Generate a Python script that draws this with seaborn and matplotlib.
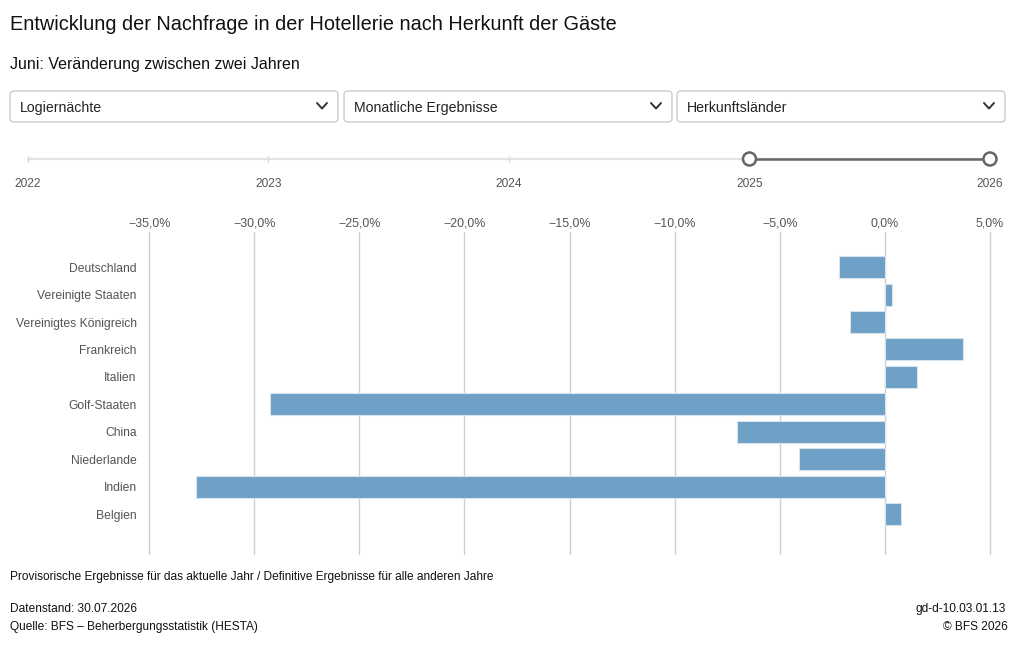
import pandas as pd
import matplotlib.pyplot as plt
import seaborn as sns
from matplotlib.patches import FancyBboxPatch, Circle
from matplotlib.ticker import FuncFormatter

# Daten: Juni, Veränderung der Logiernächte zwischen 2025 und 2026 (in %)
laender = ['Deutschland', 'Vereinigte Staaten', 'Vereinigtes Königreich', 'Frankreich',
           'Italien', 'Golf-Staaten', 'China', 'Niederlande', 'Indien', 'Belgien']
veraenderung = [-2.2, 0.35, -1.65, 3.7, 1.55, -29.25, -7.05, -4.1, -32.75, 0.75]

x_ticks = [-35, -30, -25, -20, -15, -10, -5, 0, 5]
jahre = ['2022', '2023', '2024', '2025', '2026']
dropdowns = ['Logiernächte', 'Monatliche Ergebnisse', 'Herkunftsländer']

df = pd.DataFrame({'Land': laender, 'Veraenderung': veraenderung})

sns.set_style('white')
plt.rcParams['font.family'] = ['Liberation Sans', 'DejaVu Sans']

fig = plt.figure(figsize=(10.18, 6.54), dpi=100)

# Hintergrund-Ebene in Pixelkoordinaten fuer Titel, Auswahlfelder und Zeitleiste
ui = fig.add_axes([0, 0, 1, 1], zorder=0)
ui.set_xlim(0, 1018)
ui.set_ylim(654, 0)
ui.axis('off')

ui.text(10, 24, 'Entwicklung der Nachfrage in der Hotellerie nach Herkunft der Gäste',
        fontsize=14.3, va='center', ha='left', color='#111111')
ui.text(10, 64, 'Juni: Veränderung zwischen zwei Jahren', fontsize=11.5, va='center',
        ha='left', color='#111111')

box_x = [10, 344, 677]
box_w = 328
for bx, label in zip(box_x, dropdowns):
    ui.add_patch(FancyBboxPatch((bx, 91), box_w, 31, boxstyle='round,pad=0,rounding_size=4',
                                facecolor='white', edgecolor='#cccccc', linewidth=1))
    ui.text(bx + 10, 108, label, fontsize=10.2, va='center', ha='left', color='#222222')
    cx = bx + box_w - 16
    ui.plot([cx - 5, cx, cx + 5], [103, 108.5, 103], color='#333333', linewidth=1.4,
            solid_capstyle='round', solid_joinstyle='round')

# Zeitleiste
jahr_x = [28, 268.5, 509, 749.5, 990]
ui.plot([jahr_x[0], jahr_x[-1]], [159, 159], color='#e2e2e2', linewidth=1.6)
for jx in jahr_x[:3]:
    ui.plot([jx, jx], [156, 162], color='#dddddd', linewidth=1)
ui.plot([jahr_x[3], jahr_x[4]], [159, 159], color='#666666', linewidth=1.8)
for jx in jahr_x[3:]:
    ui.add_patch(Circle((jx, 159), 6.5, facecolor='white', edgecolor='#666666', linewidth=1.8, zorder=5))
for jx, j in zip(jahr_x, jahre):
    ui.text(jx, 184, j, fontsize=8.6, ha='center', va='center', color='#555555')

# Fusszeile
fs = 8.6
ui.text(10, 577, 'Provisorische Ergebnisse für das aktuelle Jahr / Definitive Ergebnisse für alle anderen Jahre',
        fontsize=fs, ha='left', va='center', color='#111111')
ui.text(10, 609, 'Datenstand: 30.07.2026', fontsize=fs, ha='left', va='center', color='#111111')
ui.text(10, 627, 'Quelle: BFS – Beherbergungsstatistik (HESTA)', fontsize=fs, ha='left', va='center', color='#111111')
ui.text(1006, 609, 'gd-d-10.03.01.13', fontsize=fs, ha='right', va='center', color='#111111')
ui.text(1008, 627, '© BFS 2026', fontsize=fs, ha='right', va='center', color='#111111')

# Balkendiagramm
ax = fig.add_axes([147 / 1018, 1 - 555 / 654, (992 - 147) / 1018, (555 - 232) / 654], zorder=1)
ax.patch.set_alpha(0)
sns.barplot(data=df, x='Veraenderung', y='Land', orient='h', color='#6fa0c5', saturation=1,
            width=0.8, edgecolor='#d6e4ef', linewidth=0.8, ax=ax, zorder=3)

ax.set_xlim(-35.1, 5.1)
ax.set_ylim(10.49, -1.28)
ax.set_xticks(x_ticks)
ax.xaxis.set_major_formatter(FuncFormatter(lambda v, p: f'{v:.1f}%'.replace('.', ',').replace('-', '\u2212')))
ax.xaxis.tick_top()
ax.tick_params(axis='x', length=0, pad=1.8, labelsize=8.9, labelcolor='#555555')
ax.tick_params(axis='y', length=0, pad=7.5, labelsize=8.7, labelcolor='#555555')
ax.grid(axis='x', color='#d0d0d0', linewidth=1, zorder=0)
ax.set_axisbelow(True)
for s in ax.spines.values():
    s.set_visible(False)
ax.set_xlabel('')
ax.set_ylabel('')

fig.savefig('out.png', dpi=100)
